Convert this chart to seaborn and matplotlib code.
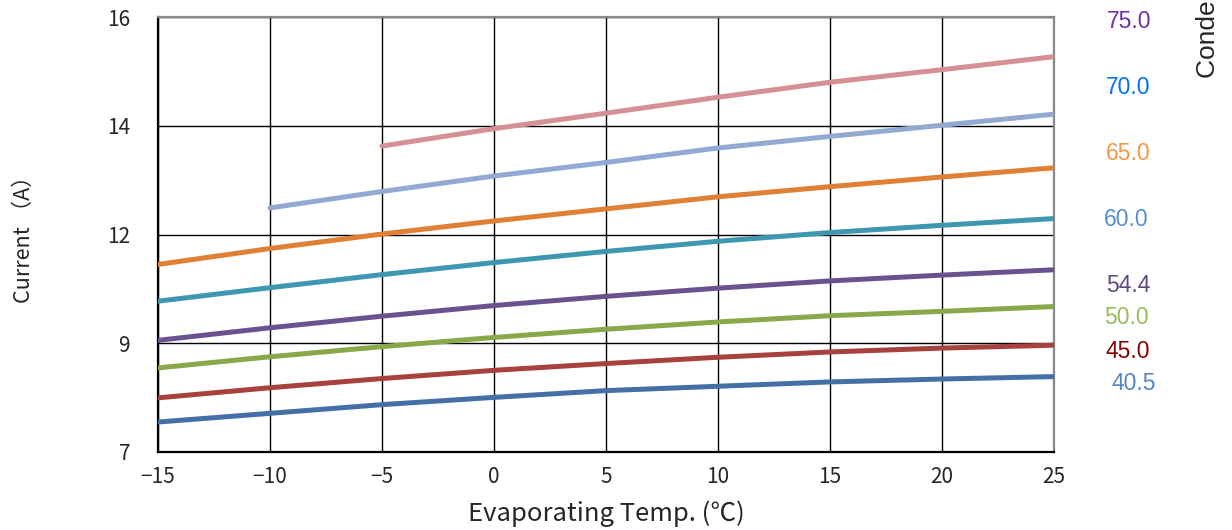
import pandas as pd
import numpy as np
import matplotlib
matplotlib.use("Agg")
import matplotlib.pyplot as plt
import seaborn as sns

# evaporating temperature (x)
evap_temp = [-15, -10, -5, 0, 5, 10, 15, 20, 25]

# current (A) per condensing temperature
cur_40_5 = [7.62, 7.80, 7.98, 8.13, 8.27, 8.36, 8.45, 8.51, 8.56]
cur_45_0 = [8.12, 8.33, 8.52, 8.69, 8.83, 8.96, 9.07, 9.15, 9.21]
cur_50_0 = [8.74, 8.97, 9.18, 9.37, 9.54, 9.69, 9.82, 9.91, 10.01]
cur_54_4 = [9.31, 9.57, 9.81, 10.03, 10.22, 10.39, 10.54, 10.66, 10.77]
cur_60_0 = [10.12, 10.40, 10.67, 10.92, 11.15, 11.36, 11.54, 11.69, 11.83]
cur_65_0 = [10.88, 11.21, 11.51, 11.78, 12.03, 12.28, 12.49, 12.69, 12.88]
cur_70_0 = [None, 12.05, 12.39, 12.71, 12.99, 13.29, 13.53, 13.76, 13.99]
cur_75_0 = [None, None, 13.33, 13.69, 14.01, 14.34, 14.65, 14.91, 15.18]

cond_labels = ["40.5", "45.0", "50.0", "54.4", "60.0", "65.0", "70.0", "75.0"]
series = [cur_40_5, cur_45_0, cur_50_0, cur_54_4, cur_60_0, cur_65_0, cur_70_0, cur_75_0]

line_colors = ["#4470A8", "#A8403E", "#88A84A", "#6A5290", "#3E97B0", "#E08035", "#92AAD2", "#D49092"]
label_colors = ["#5585C5", "#8B0000", "#9BBB59", "#604A7B", "#558ED5", "#F79646", "#0070FF", "#7030A0"]

y_ticks = [7, 9.25, 11.5, 13.75, 16]
y_tick_labels = ["7", "9", "12", "14", "16"]
x_ticks = evap_temp

rows = []
for lab, vals in zip(cond_labels, series):
    for t, v in zip(evap_temp, vals):
        if v is not None:
            rows.append({"evap": t, "current": v, "cond": lab})
df = pd.DataFrame(rows)

sns.set_style("white")
plt.rcParams['font.family'] = ['Noto Sans CJK JP', 'DejaVu Sans']

fig = plt.figure(figsize=(12.32, 5.30), dpi=100)
ax = fig.add_axes([158/1232, 1-452/530, (1054-158)/1232, (452-17)/530])

sns.lineplot(data=df, x="evap", y="current", hue="cond",
             palette=dict(zip(cond_labels, line_colors)),
             linewidth=3.6, legend=False, ax=ax, zorder=3)

ax.set_xlim(-15, 25)
ax.set_ylim(7, 16)
ax.set_xticks(x_ticks)
ax.set_yticks(y_ticks)
ax.set_yticklabels(y_tick_labels)
ax.grid(True, color="black", linewidth=1.0)
ax.set_axisbelow(True)

for s in ["left", "bottom"]:
    ax.spines[s].set_color("black")
    ax.spines[s].set_linewidth(1.6)
for s in ["top", "right"]:
    ax.spines[s].set_color("#888888")
    ax.spines[s].set_linewidth(1.6)

ax.tick_params(axis="x", length=4, width=1, color="black", pad=6, labelsize=15)
ax.tick_params(axis="y", length=0, pad=20, labelsize=15)

ax.set_xlabel("Evaporating Temp. (℃)", fontsize=18.5, labelpad=9)
ax.set_ylabel("Current （A）", fontsize=15.5, labelpad=52)

# condensing temperature labels on the right
label_y = [383, 351, 317, 286, 219, 154, 87, 22]
label_x = [1134, 1128, 1126, 1128, 1126, 1128, 1128, 1129]
for lab, col, xp, yp in zip(cond_labels, label_colors, label_x, label_y):
    fig.text(xp/1232, 1-yp/530, lab, color=col, fontsize=16.5,
             family="Liberation Sans", ha="center", va="center")

fig.text(1208/1232, 1-78/530, "Condensing Temp. (°C)", rotation=90,
         fontsize=19, family="Liberation Sans",
         ha="center", va="bottom")

fig.savefig("out.png", dpi=100)
